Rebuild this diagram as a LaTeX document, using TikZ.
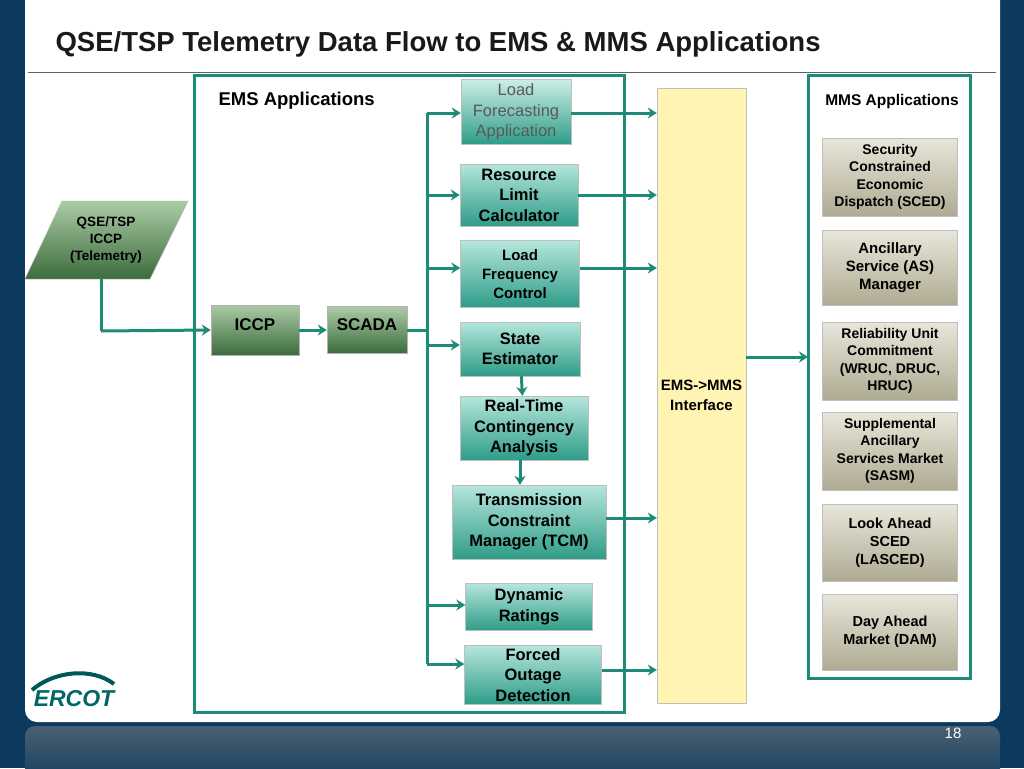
\documentclass[tikz,border=0pt]{standalone}
\usepackage{fontspec}
\setmainfont{Liberation Sans}
\usetikzlibrary{arrows.meta}
\definecolor{navy}{HTML}{0B3A5E}
\definecolor{ln}{HTML}{1E8B78}
\definecolor{tt}{HTML}{B5E6DC}
\definecolor{tb}{HTML}{2E9C88}
\definecolor{gt}{HTML}{ABCBA6}
\definecolor{gb}{HTML}{3C6C3C}
\definecolor{mt}{HTML}{E8E6DA}
\definecolor{mb}{HTML}{AEAA92}
\begin{document}
\begin{tikzpicture}[x=1pt,y=-1pt,
 gbox/.style={draw=gray!60,top color=gt,bottom color=gb,font=\bfseries\fontsize{17}{20}\selectfont,align=center,inner sep=0pt},
 tbox/.style={draw=gray!50,top color=tt,bottom color=tb,font=\bfseries\fontsize{16.5}{20.5}\selectfont,align=center,inner sep=0pt},
 mbox/.style={draw=gray!50,top color=mt,bottom color=mb,font=\bfseries\fontsize{14}{17.5}\selectfont,align=center,inner sep=0pt},
 fr/.style={draw=ln,line width=3pt},
 ar/.style={ln,line width=3pt,-{Stealth[length=9pt,width=11pt]}},
 l/.style={ln,line width=3pt}]
\useasboundingbox (0,0) rectangle (1024,768);
\fill[navy] (0,0) rectangle (1024,768);
\fill[white,rounded corners=12pt] (25,-20) rectangle (1000,722);
\shade[top color=gray!55!navy,bottom color=navy,rounded corners=10pt] (25,726) rectangle (1000,790);
\node[white,font=\fontsize{15}{17}\selectfont] (pg) at (953,733) {18};
\node[anchor=west,font=\bfseries\fontsize{27.5}{30}\selectfont,text=black!90] (ttl) at (52,44) {QSE/TSP Telemetry Data Flow to EMS \& MMS Applications};
\draw[gray!60!navy,line width=1pt] (28,72) -- (996,72);
\node[font=\bfseries\itshape\fontsize{23}{26}\selectfont,text=teal!80!black] (logo) at (74,699) {ERCOT};
\draw[teal!70!black,line width=4pt] (32,690) .. controls (54,671) and (92,667) .. (114,684);
% frames
\draw[fr] (194,75) rectangle (624,712);
\draw[fr] (808,75) rectangle (970,678);
\node[anchor=west,font=\bfseries\fontsize{18.5}{20}\selectfont] (emsT) at (215,101) {EMS Applications};
\node[font=\bfseries\fontsize{15.5}{17}\selectfont] (mmsT) at (892,101) {MMS Applications};
% QSE
\shade[draw=gray!60,top color=gt,bottom color=gb] (62,201) -- (188,201) -- (150,279) -- (25,279) -- cycle;
\node[font=\bfseries\fontsize{13.5}{17}\selectfont,align=center,inner sep=0pt] (qse) at (106,240) {QSE/TSP\\ICCP\\(Telemetry)};
\node[gbox,minimum width=88pt,minimum height=50pt] (iccp) at (255,330) {\raisebox{10pt}{ICCP}};
\node[gbox,minimum width=80pt,minimum height=47pt] (scada) at (367,330) {\raisebox{10pt}{SCADA}};
% teal boxes
\node[tbox,minimum width=110pt,minimum height=65pt,font=\fontsize{16.5}{20.5}\selectfont,text=black!65,top color=tt!70!white] (lf) at (516,112) {Load\\Forecasting\\Application};
\node[tbox,minimum width=118pt,minimum height=62pt] (rl) at (519,195) {Resource\\Limit\\Calculator};
\node[tbox,minimum width=119pt,minimum height=67pt,font=\bfseries\fontsize{15}{19}\selectfont] (lfc) at (520,274) {Load\\Frequency\\Control};
\node[tbox,minimum width=120pt,minimum height=54pt] (se) at (520,349) {State\\Estimator};
\node[tbox,minimum width=128pt,minimum height=64pt] (rt) at (524,428) {Real-Time\\Contingency\\Analysis};
\node[tbox,minimum width=154pt,minimum height=74pt] (tcm) at (529,522) {Transmission\\Constraint\\Manager (TCM)};
\node[tbox,minimum width=127pt,minimum height=47pt] (dr) at (529,607) {Dynamic\\Ratings};
\node[tbox,minimum width=137pt,minimum height=59pt] (fo) at (533,675) {Forced\\Outage\\Detection};
% interface
\node[draw=gray!50,fill=orange!30!yellow!30,minimum width=89pt,minimum height=615pt,inner sep=0pt,font=\bfseries\fontsize{15}{20.5}\selectfont,align=center] (ifc) at (701.5,395.5) {EMS->MMS\\Interface};
% MMS boxes
\node[mbox,minimum width=135pt,minimum height=78pt] (sced) at (890,177) {Security\\Constrained\\Economic\\Dispatch (SCED)};
\node[mbox,minimum width=135pt,minimum height=75pt,font=\bfseries\fontsize{15}{18}\selectfont] (as) at (890,268) {Ancillary\\Service (AS)\\Manager};
\node[mbox,minimum width=135pt,minimum height=78pt] (ruc) at (890,361) {Reliability Unit\\Commitment\\(WRUC, DRUC,\\HRUC)};
\node[mbox,minimum width=135pt,minimum height=78pt] (sasm) at (890,451) {Supplemental\\Ancillary\\Services Market\\(SASM)};
\node[mbox,minimum width=135pt,minimum height=77pt,font=\bfseries\fontsize{14.5}{18}\selectfont] (las) at (890,543) {Look Ahead\\SCED\\(LASCED)};
\node[mbox,minimum width=135pt,minimum height=76pt,font=\bfseries\fontsize{14.5}{18}\selectfont] (dam) at (890,632) {Day Ahead\\Market (DAM)};
% connectors
\coordinate (q1) at (101,331);
\draw[l] (101,279) -- (q1);
\draw[ar] (q1) -- (iccp.west);
\draw[ar] (iccp) -- (scada);
\coordinate (bt) at (427,113);
\coordinate (bb) at (427,664);
\draw[l] (bt) -- (bb);
\draw[l] (scada.east) -- (scada.east -| bt);
\draw[ar] (bt) -- (lf.west |- bt);
\draw[ar] (427,195) -- (rl.west);
\draw[ar] (427,268) -- (lfc.west |- 0,268);
\draw[ar] (427,345) -- (se.west |- 0,345);
\draw[ar] (427,605) -- (dr.west |- 0,605);
\draw[ar] (bb) -- (fo.west |- bb);
\draw[ar] (se) -- (rt);
\draw[ar] (rt.south -| se) -- (tcm.north -| se);
\draw[ar] (lf.east |- bt) -- (ifc.west |- bt);
\draw[ar] (rl.east) -- (ifc.west |- rl);
\draw[ar] (lfc.east |- 0,268) -- (ifc.west |- 0,268);
\draw[ar] (tcm.east |- 0,518) -- (ifc.west |- 0,518);
\draw[ar] (fo.east |- 0,670) -- (ifc.west |- 0,670);
\draw[ar] (ifc.east |- 0,357) -- (808,357);
\end{tikzpicture}
\end{document}
